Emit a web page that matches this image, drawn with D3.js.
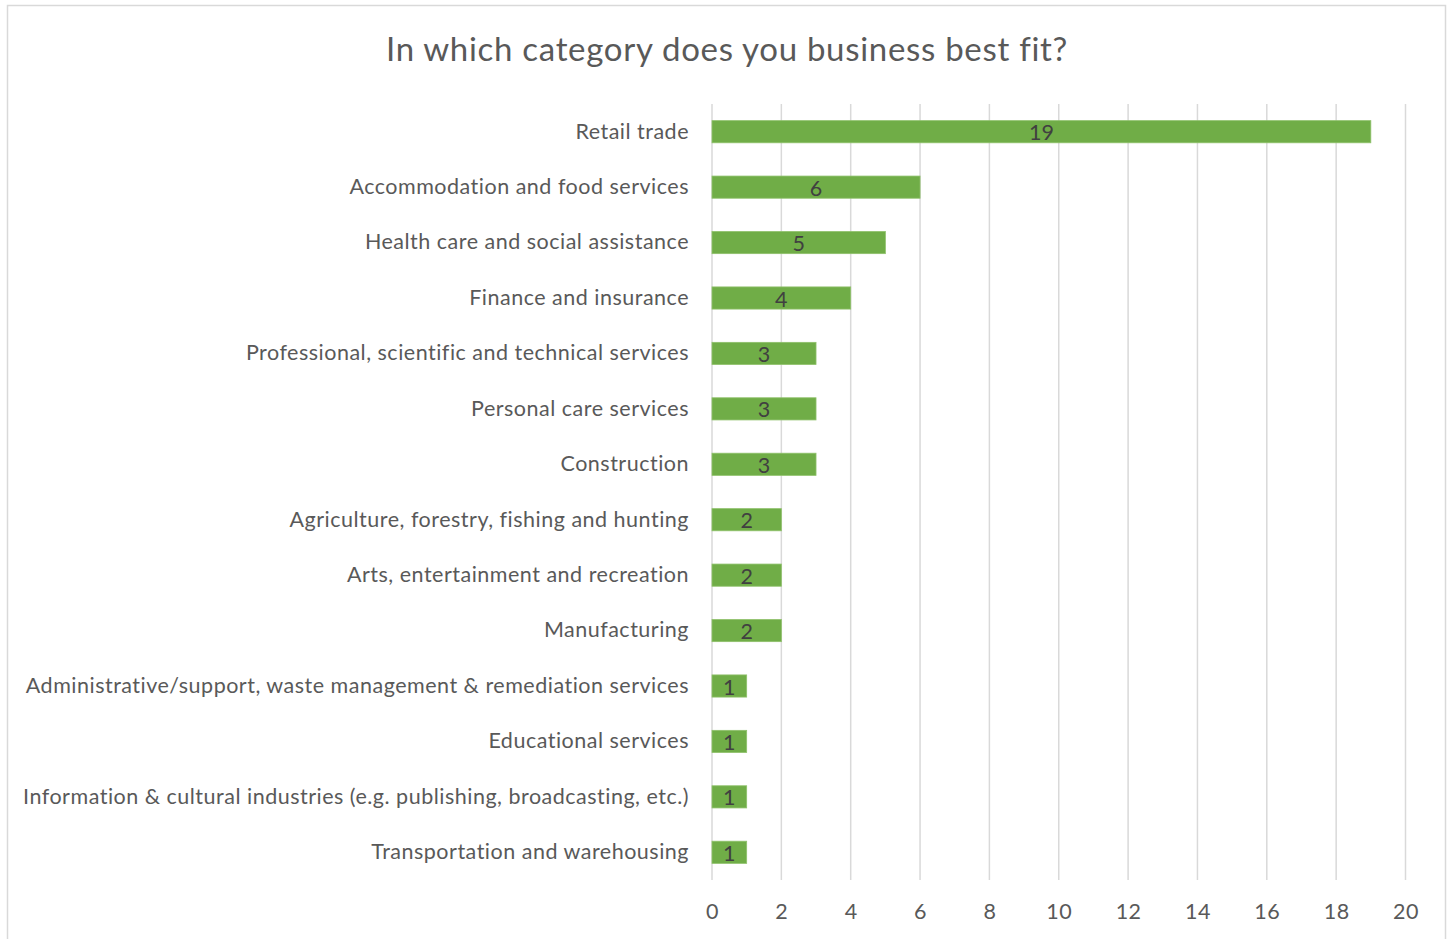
<!DOCTYPE html>
<html>
<head>
<meta charset="utf-8">
<script src="https://cdn.jsdelivr.net/npm/d3@7"></script>
<style>
  html, body { margin: 0; padding: 0; background: #fff; }
  svg { display: block; }
</style>
</head>
<body>
<svg id="chart" width="1450" height="939"></svg>
<script>
// Survey responses: business category counts
const categories = [
  "Retail trade",
  "Accommodation and food services",
  "Health care and social assistance",
  "Finance and insurance",
  "Professional, scientific and technical services",
  "Personal care services",
  "Construction",
  "Agriculture, forestry, fishing and hunting",
  "Arts, entertainment and recreation",
  "Manufacturing",
  "Administrative/support, waste management & remediation services",
  "Educational services",
  "Information & cultural industries (e.g. publishing, broadcasting, etc.)",
  "Transportation and warehousing"
];
const counts = [19, 6, 5, 4, 3, 3, 3, 2, 2, 2, 1, 1, 1, 1];
const xTicks = [0, 2, 4, 6, 8, 10, 12, 14, 16, 18, 20];
const title = "In which category does you business best fit?";

const FONT = "Lato, 'Open Sans', sans-serif";
const svg = d3.select("#chart");

// chart frame
svg.append("rect")
  .attr("x", 7.5).attr("y", 5.5)
  .attr("width", 1438).attr("height", 945)
  .attr("fill", "#fff").attr("stroke", "#d9d9d9").attr("stroke-width", 1.5);

const plot = { left: 712, right: 1405.5, top: 104, bottom: 880 };

const x = d3.scaleLinear().domain([0, 20]).range([plot.left, plot.right]);
const y = d3.scaleBand()
  .domain(categories)
  .range([104, 880])
  .paddingInner(0.6)
  .paddingOuter(0.3);

// vertical gridlines
svg.append("g")
  .selectAll("line")
  .data(xTicks)
  .join("line")
  .attr("x1", d => x(d)).attr("x2", d => x(d))
  .attr("y1", plot.top).attr("y2", plot.bottom)
  .attr("stroke", "#d9d9d9").attr("stroke-width", 1.5);

// x axis tick labels
const xAxis = d3.axisBottom(x).tickValues(xTicks).tickSize(0).tickPadding(0);
const gx = svg.append("g")
  .attr("transform", `translate(0, ${plot.bottom})`)
  .call(xAxis);
gx.select(".domain").remove();
gx.selectAll("text")
  .attr("dy", null)
  .attr("y", 39)
  .attr("font-family", FONT)
  .attr("font-size", 21.5)
  .attr("letter-spacing", 0.5)
  .attr("fill", "#595959");

// category labels
const yAxis = d3.axisLeft(y).tickSize(0).tickPadding(0);
const gy = svg.append("g")
  .attr("transform", `translate(${plot.left - 23}, 0)`)
  .call(yAxis);
gy.select(".domain").remove();
gy.selectAll("text")
  .attr("font-family", FONT)
  .attr("font-size", 21.5)
  .attr("letter-spacing", 0.5)
  .attr("fill", "#595959");

// bars
const rows = categories.map((c, i) => ({ c, v: counts[i] }));
svg.append("g")
  .selectAll("rect")
  .data(rows)
  .join("rect")
  .attr("x", x(0))
  .attr("y", d => y(d.c))
  .attr("width", d => x(d.v) - x(0))
  .attr("height", y.bandwidth())
  .attr("fill", "#70ad47")
  .attr("stroke", "#8fc16b")
  .attr("stroke-width", 0.8);

// value labels centered in bars
svg.append("g")
  .selectAll("text")
  .data(rows)
  .join("text")
  .attr("x", d => (x(0) + x(d.v)) / 2)
  .attr("y", d => y(d.c) + y.bandwidth() / 2)
  .attr("dy", "0.4em")
  .attr("text-anchor", "middle")
  .attr("font-family", FONT)
  .attr("font-size", 21.5)
  .attr("fill", "#404040")
  .text(d => d.v);

// title
svg.append("text")
  .attr("x", 727)
  .attr("y", 61)
  .attr("text-anchor", "middle")
  .attr("font-family", FONT)
  .attr("font-size", 33)
  .attr("letter-spacing", 0.7)
  .attr("fill", "#595959")
  .text(title);
</script>
</body>
</html>
